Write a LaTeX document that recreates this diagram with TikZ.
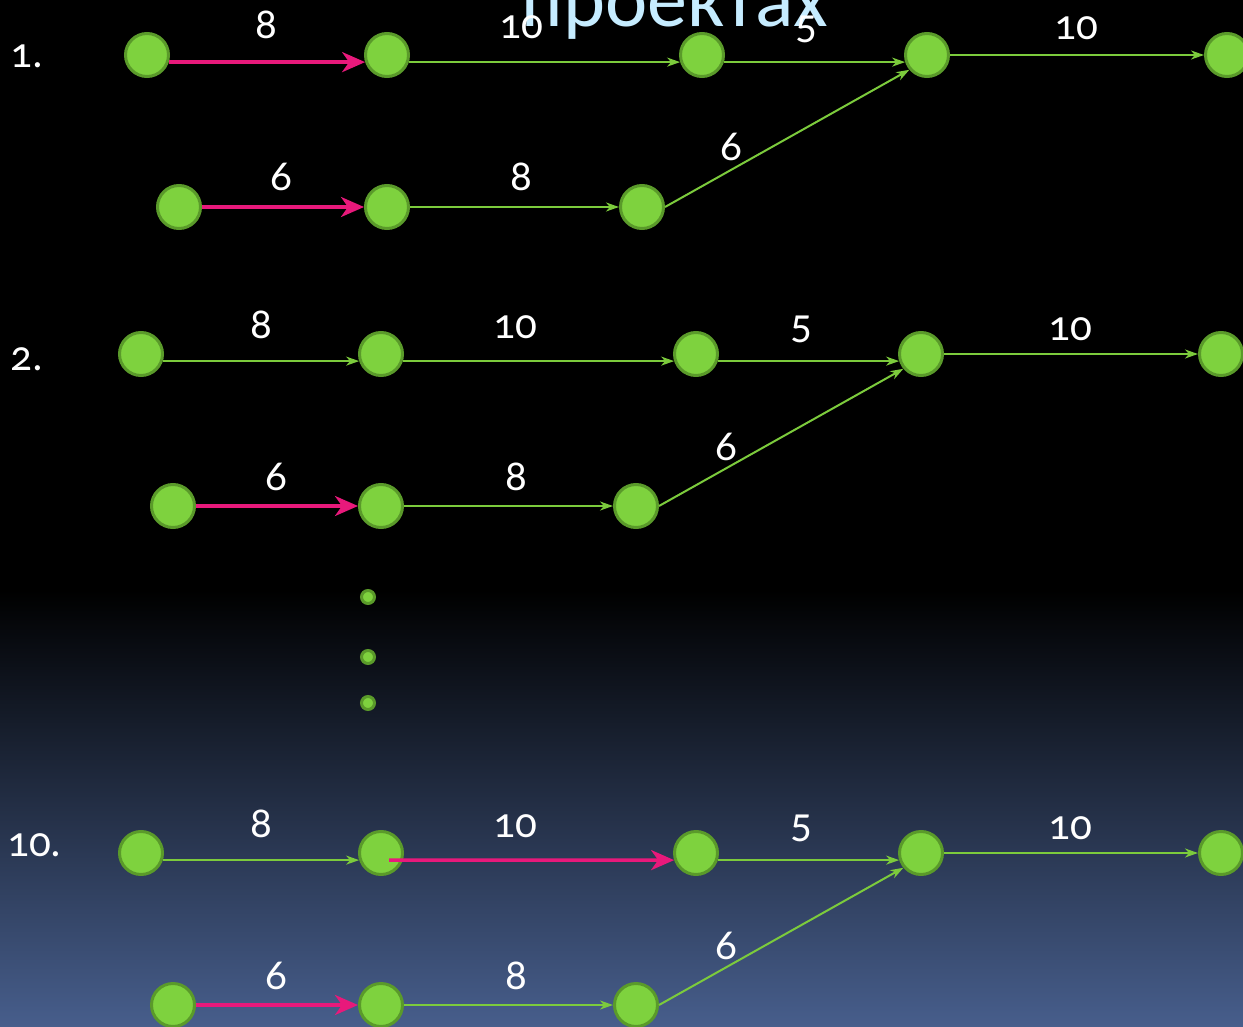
\documentclass[tikz,border=0pt]{standalone}
\usepackage{fontspec}
\setmainfont{Carlito}[Numbers=OldStyle]
\usetikzlibrary{arrows.meta}
\definecolor{evgreen}{HTML}{7ED23E}
\definecolor{evrim}{HTML}{5A9A2A}
\definecolor{lngreen}{HTML}{7CCB3C}
\definecolor{crpink}{HTML}{E8197B}
\definecolor{ttlblue}{HTML}{C6ECFF}
\definecolor{bgblue}{HTML}{475E8C}

\begin{document}
\begin{tikzpicture}[
x=1pt,y=-1pt,
ev/.style={circle,fill=evgreen,draw=evrim,line width=3pt,minimum size=43pt,inner sep=0pt},
dotnode/.style={circle,fill=evgreen,draw=evrim,line width=3pt,minimum size=13pt,inner sep=0pt},
garr/.style={draw=lngreen,line width=2pt,-{Stealth[length=13pt,width=9pt,inset=4pt]}},
parr/.style={draw=crpink,line width=3.5pt,-{Stealth[length=23pt,width=20pt,inset=7pt]}},
lbl/.style={text=white,anchor=base,inner sep=0pt,font=\fontsize{43}{43}\selectfont},
grp/.style={lbl,anchor=base west},
ttl/.style={text=ttlblue,anchor=base,inner sep=0pt,font=\fontsize{80}{80}\selectfont}
]
\useasboundingbox (0,0) rectangle (1243,1027);
\clip (0,0) rectangle (1243,1027);
\fill[black] (0,0) rectangle (1243,600);
\shade[top color=black,bottom color=bgblue] (0,590) rectangle (1243,1027);

\node[ttl] (title) at (675,27) {проектах};

% 1.
\node[grp] (n1) at (10,68) {1.};
\node[ev] (a1) at (147,55) {};
\node[ev] (a2) at (387,55) {};
\node[ev] (a3) at (702,55) {};
\node[ev] (a4) at (927,55) {};
\node[ev] (a5) at (1227,55) {};
\node[ev] (b1) at (179,207) {};
\node[ev] (b2) at (387,207) {};
\node[ev] (b3) at (642,207) {};
\draw[parr] (a1.-18) -- (a2.198);
\draw[garr] (a2.-18) -- (a3.198);
\draw[garr] (a3.-18) -- (a4.198);
\draw[garr] (a4) -- (a5);
\draw[parr] (b1) -- (b2);
\draw[garr] (b2) -- (b3);
\draw[garr] (b3.east) -- (a4.220);
\node[lbl] (la12) at (266,39) {8};
\node[lbl] (la23) at (521,39) {10};
\node[lbl] (la34) at (806,39) {5};
\node[lbl] (la45) at (1076,40) {10};
\node[lbl] (lb12) at (281,191) {6};
\node[lbl] (lb23) at (521,191) {8};
\node[lbl] (lb34) at (731,161) {6};

% 2.
\node[grp] (n2) at (10,370) {2.};
\node[ev] (c1) at (141,354) {};
\node[ev] (c2) at (381,354) {};
\node[ev] (c3) at (696,354) {};
\node[ev] (c4) at (921,354) {};
\node[ev] (c5) at (1221,354) {};
\node[ev] (d1) at (173,506) {};
\node[ev] (d2) at (381,506) {};
\node[ev] (d3) at (636,506) {};
\draw[garr] (c1.-18) -- (c2.198);
\draw[garr] (c2.-18) -- (c3.198);
\draw[garr] (c3.-18) -- (c4.198);
\draw[garr] (c4) -- (c5);
\draw[parr] (d1) -- (d2);
\draw[garr] (d2) -- (d3);
\draw[garr] (d3.east) -- (c4.220);
\node[lbl] (lc12) at (261,338) {8};
\node[lbl] (lc23) at (515,338) {10};
\node[lbl] (lc34) at (801,338) {5};
\node[lbl] (lc45) at (1070,340) {10};
\node[lbl] (ld12) at (276,490) {6};
\node[lbl] (ld23) at (516,490) {8};
\node[lbl] (ld34) at (726,460) {6};

\node[dotnode] (dot1) at (368,597) {};
\node[dotnode] (dot2) at (368,657) {};
\node[dotnode] (dot3) at (368,703) {};

% 10.
\node[grp] (n10) at (7,856) {10.};
\node[ev] (e1) at (141,853) {};
\node[ev] (e2) at (381,853) {};
\node[ev] (e3) at (696,853) {};
\node[ev] (e4) at (921,853) {};
\node[ev] (e5) at (1221,853) {};
\node[ev] (f1) at (173,1005) {};
\node[ev] (f2) at (381,1005) {};
\node[ev] (f3) at (636,1005) {};
\draw[garr] (e1.-18) -- (e2.198);
\draw[parr] ([shift={(8,7)}]e2.center) -- (e3.198);
\draw[garr] (e3.-18) -- (e4.198);
\draw[garr] (e4) -- (e5);
\draw[parr] (f1) -- (f2);
\draw[garr] (f2) -- (f3);
\draw[garr] (f3.east) -- (e4.220);
\node[lbl] (le12) at (261,837) {8};
\node[lbl] (le23) at (515,837) {10};
\node[lbl] (le34) at (801,837) {5};
\node[lbl] (le45) at (1070,839) {10};
\node[lbl] (lf12) at (276,989) {6};
\node[lbl] (lf23) at (516,989) {8};
\node[lbl] (lf34) at (726,959) {6};
\end{tikzpicture}
\end{document}
